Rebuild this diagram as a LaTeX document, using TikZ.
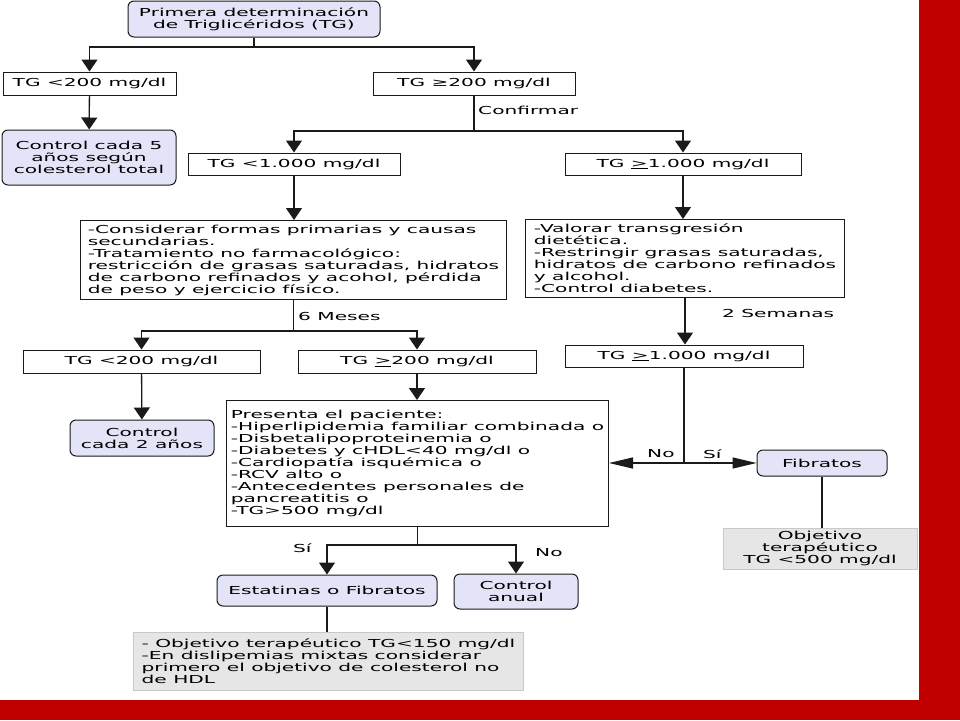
\documentclass[tikz,border=0pt]{standalone}
\usepackage{fontspec}
\setmainfont[FakeStretch=1.83]{DejaVu Sans}
\usetikzlibrary{arrows.meta}
\definecolor{lav}{HTML}{E4E4F8}
\definecolor{gfill}{HTML}{E6E6E6}
\definecolor{gline}{HTML}{C8C8C8}
\definecolor{linec}{HTML}{1A1A1A}
\definecolor{redc}{HTML}{C00000}
\begin{document}
\begin{tikzpicture}[x=1pt,y=-1pt,
  every node/.style={font=\fontsize{11}{12}\selectfont, inner sep=2pt, text=black},
  box/.style={draw=linec, line width=1pt, fill=white, align=center},
  rbox/.style={draw=linec, line width=1pt, fill=lav, rounded corners=6pt, align=center},
  gbox/.style={draw=gline, line width=1pt, fill=gfill, align=center},
  conn/.style={draw=linec, line width=1.3pt},
  arrv/.style={conn, -{Triangle[width=16pt,length=12pt]}},
  arrh/.style={conn, -{Triangle[width=11pt,length=24pt]}},
  lbl/.style={anchor=west, inner sep=0pt}]
\useasboundingbox (0,0) rectangle (960,720);
\fill[white] (0,0) rectangle (960,720);
\fill[redc] (919,0) rectangle (960,720);
\fill[redc] (0,700) rectangle (960,720);

% nodes
\node[rbox, minimum width=252pt, minimum height=36pt] (top) at (254,19) {Primera determinación\\de Triglicéridos (TG)};
\node[box, minimum width=173pt, minimum height=23pt] (tga) at (89.5,83.5) {TG <200 mg/dl};
\node[box, minimum width=202pt, minimum height=23pt] (tgb) at (474,83.5) {TG ≥200 mg/dl};
\node[rbox, minimum width=174pt, minimum height=55pt] (c5) at (89,157.5) {Control cada 5\\años según\\colesterol total};
\node[box, minimum width=212pt, minimum height=22pt] (tlt1000) at (294,164) {TG <1.000 mg/dl};
\node[box, minimum width=236pt, minimum height=22pt] (tge1000) at (683,164) {TG \underline{>}1.000 mg/dl};
\node[box, align=left, minimum width=426pt, minimum height=79pt, anchor=north west] (cons) at (80,220)
  {-Considerar formas primarias y causas\\secundarias.\\-Tratamiento no farmacológico:\\restricción de grasas saturadas, hidratos\\de carbono refinados y acohol, pérdida\\de peso y ejercicio físico.};
\node[box, align=left, minimum width=319pt, minimum height=78pt, anchor=north west] (val) at (525,219)
  {-Valorar transgresión\\dietética.\\-Restringir grasas saturadas,\\hidratos de carbono refinados\\y alcohol.\\-Control diabetes.};
\node[box, minimum width=237pt, minimum height=23pt] (tlt200b) at (141.5,361.5) {TG <200 mg/dl};
\node[box, minimum width=238pt, minimum height=23pt] (tge200b) at (417,361.5) {TG \underline{>}200 mg/dl};
\node[box, minimum width=238pt, minimum height=22pt] (tge1000b) at (684,356) {TG \underline{>}1.000 mg/dl};
\node[rbox, minimum width=144pt, minimum height=36pt] (c2) at (142,438) {Control\\cada 2 años};
\node[box, align=left, minimum width=382pt, minimum height=126pt, anchor=north west] (pres) at (226,400)
  {Presenta el paciente:\\-Hiperlipidemia familiar combinada o\\-Disbetalipoproteinemia o\\-Diabetes y cHDL<40 mg/dl o\\-Cardiopatía isquémica o\\-RCV alto o\\-Antecedentes personales de\\pancreatitis o\\-TG>500 mg/dl};
\node[rbox, minimum width=130pt, minimum height=26pt] (fib) at (822,463) {Fibratos};
\node[gbox, minimum width=194pt, minimum height=41pt] (o500) at (820,548.5) {Objetivo\\terapéutico\\TG <500 mg/dl};
\node[rbox, minimum width=220pt, minimum height=31pt] (est) at (327,590.5) {Estatinas o Fibratos};
\node[rbox, minimum width=124pt, minimum height=35pt] (canual) at (516,591.5) {Control\\anual};
\node[gbox, align=left, minimum width=390pt, minimum height=58pt, anchor=north west] (o150) at (133,632)
  {- Objetivo terapéutico TG<150 mg/dl\\-En dislipemias mixtas considerar\\primero el objetivo de colesterol no\\de HDL};

% labels
\node[lbl] (lconf) at (478,110) {Confirmar};
\node[lbl] (lmeses) at (298,316) {6 Meses};
\node[lbl] (lsem) at (722,313) {2 Semanas};
\node[lbl] (lno1) at (647,454) {No};
\node[lbl] (lsi1) at (703,454) {Sí};
\node[lbl] (lsi2) at (293,548) {Sí};
\node[lbl] (lno2) at (535,553) {No};

% junctions
\coordinate (j1) at (top.south |- 0,47);
\coordinate (j2) at (tgb.south |- 0,131);
\coordinate (j3) at (cons.south |- 0,331);
\coordinate (j4) at (tge1000b.south |- 0,463);
\coordinate (j5) at (pres.south |- 0,545);

% connectors
\draw[conn] (top.south) -- (j1);
\draw[arrv] (j1) -| (tga);
\draw[arrv] (j1) -| (tgb);
\draw[arrv] (tga) -- (c5);
\draw[conn] (tgb.south) -- (j2);
\draw[arrv] (j2) -| (tlt1000);
\draw[arrv] (j2) -| (tge1000);
\draw[arrv] (tlt1000.south) -- (tlt1000.south |- cons.north);
\draw[arrv] (tge1000.south) -- (tge1000.south |- val.north);
\draw[conn] (cons.south) -- (j3);
\draw[arrv] (j3) -| (tlt200b);
\draw[arrv] (j3) -| (tge200b);
\draw[arrv] (val.south) -- (val.south |- tge1000b.north);
\draw[arrv] (tlt200b) -- (c2);
\draw[arrv] (tge200b.south) -- (tge200b.south |- pres.north);
\draw[conn] (tge1000b.south) -- (j4);
\draw[arrh] (j4) -- (j4 -| pres.east);
\draw[arrh] (j4) -- (j4 -| fib.west);
\draw[conn] (fib.south) -- (fib.south |- o500.north);
\draw[conn] (pres.south) -- (j5);
\draw[arrv] (j5) -| (est);
\draw[arrv] (j5) -| (canual);
\draw[conn] (est.south) -- (est.south |- o150.north);
\end{tikzpicture}
\end{document}
